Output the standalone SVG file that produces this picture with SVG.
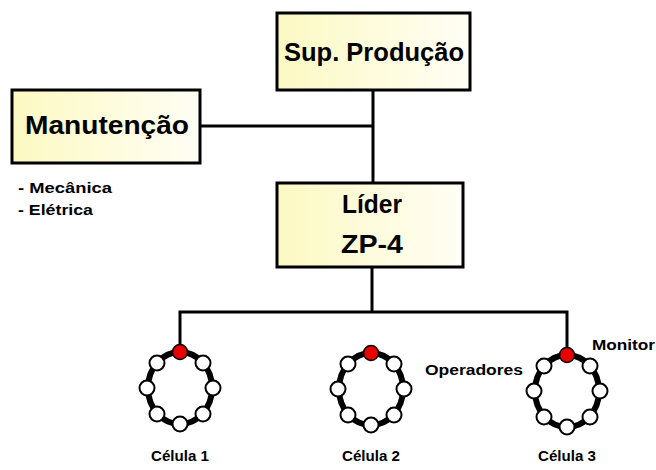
<svg xmlns="http://www.w3.org/2000/svg" width="656" height="470" viewBox="0 0 656 470">
<defs>
<linearGradient id="g" x1="0" y1="0" x2="1" y2="0">
<stop offset="0" stop-color="#fcf9c2"/>
<stop offset="1" stop-color="#fffef5"/>
</linearGradient>
<g id="ring">
<ellipse cx="0" cy="0" rx="32" ry="36" fill="none" stroke="#000" stroke-width="6"/>
<g fill="#fff" stroke="#000" stroke-width="2">
<circle cx="-23" cy="-25" r="7.5"/>
<circle cx="23" cy="-25" r="7.5"/>
<circle cx="-33" cy="0" r="7.5"/>
<circle cx="33" cy="0" r="7.5"/>
<circle cx="-23" cy="26" r="7.5"/>
<circle cx="23" cy="26" r="7.5"/>
<circle cx="0" cy="36" r="7.5"/>
</g>
<circle cx="0" cy="-36" r="7.5" fill="#e80000" stroke="#000" stroke-width="1.5"/>
</g>
</defs>
<style>
.box{fill:url(#g);stroke:#000;stroke-width:3}
.t{font-family:"Liberation Sans",Arial,sans-serif;font-weight:bold;fill:#000}
.big{font-size:25px}
.sm{font-size:14px}
.cl{font-size:15px}
.ln{stroke:#000;stroke-width:3;fill:none}
</style>
<rect width="656" height="470" fill="#fff"/>
<g id="connectors">
<path class="ln" d="M373 90 V183"/>
<path class="ln" d="M200 126 H373"/>
<path class="ln" d="M372 267 V312"/>
<path class="ln" d="M180 346 V312 H567 V350"/>
</g>
<g id="sup">
<rect class="box" x="277" y="13" width="193" height="77"/>
<text class="t big" x="374" y="61" text-anchor="middle" textLength="180" lengthAdjust="spacingAndGlyphs">Sup. Produção</text>
</g>
<g id="manut">
<rect class="box" x="12" y="90" width="188" height="73"/>
<text class="t big" x="107" y="134" text-anchor="middle" textLength="164" lengthAdjust="spacingAndGlyphs">Manutenção</text>
<text class="t sm" x="18" y="193" textLength="94" lengthAdjust="spacingAndGlyphs">- Mecânica</text>
<text class="t sm" x="18" y="215" textLength="75" lengthAdjust="spacingAndGlyphs">- Elétrica</text>
</g>
<g id="lider">
<rect class="box" x="277" y="183" width="186" height="84"/>
<text class="t big" x="372" y="213" text-anchor="middle" textLength="60" lengthAdjust="spacingAndGlyphs">Líder</text>
<text class="t big" x="372" y="253" text-anchor="middle" textLength="62" lengthAdjust="spacingAndGlyphs">ZP-4</text>
</g>
<g id="celula1">
<use href="#ring" x="180" y="388"/>
<text class="t cl" x="180" y="461" text-anchor="middle" textLength="58" lengthAdjust="spacingAndGlyphs">Célula 1</text>
</g>
<g id="celula2">
<use href="#ring" x="371" y="389"/>
<text class="t cl" x="371" y="461" text-anchor="middle" textLength="58" lengthAdjust="spacingAndGlyphs">Célula 2</text>
</g>
<g id="celula3">
<use href="#ring" x="567" y="391"/>
<text class="t cl" x="567" y="461" text-anchor="middle" textLength="58" lengthAdjust="spacingAndGlyphs">Célula 3</text>
<text class="t sm" x="425" y="375" textLength="98" lengthAdjust="spacingAndGlyphs">Operadores</text>
<text class="t sm" x="592" y="350" textLength="63" lengthAdjust="spacingAndGlyphs">Monitor</text>
</g>
</svg>
